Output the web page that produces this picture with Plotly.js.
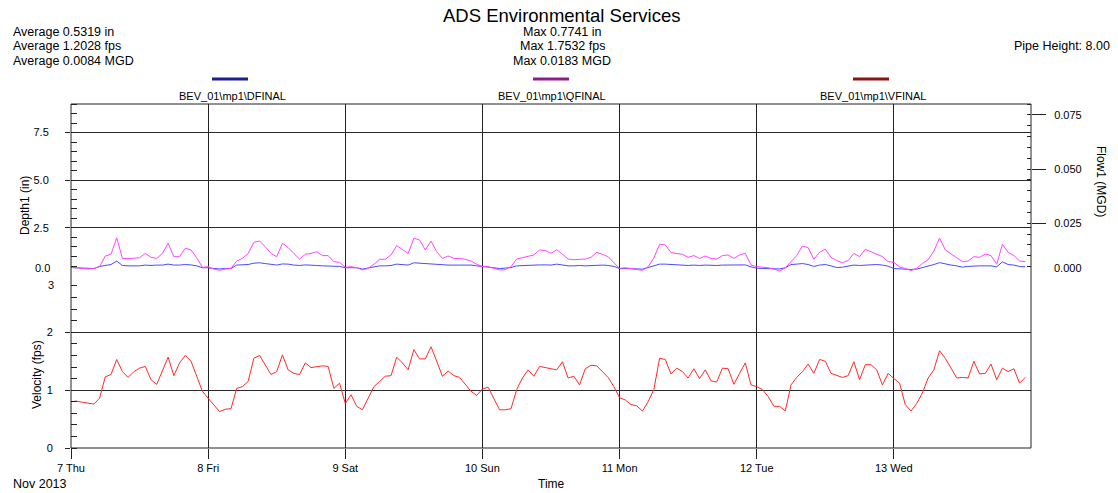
<!DOCTYPE html>
<html><head><meta charset="utf-8">
<script src="https://cdn.plot.ly/plotly-3.0.1.min.js"></script>
<style>html,body{margin:0;padding:0;background:#fff}</style>
</head><body><div id="chart" style="width:1118px;height:493px"></div>
<script>
// ---- data (hourly, 7-14 Nov 2013) ----
const dayTicks = ['2013-11-07','2013-11-08','2013-11-09','2013-11-10','2013-11-11','2013-11-12','2013-11-13'];
const dayLabels = ['7 Thu','8 Fri','9 Sat','10 Sun','11 Mon','12 Tue','13 Wed'];

const depthIn = [
 0.42,0.41,0.39,0.37,0.37,0.48,0.55,0.58,0.76,0.53,0.51,0.51,0.51,0.55,0.53,0.55,0.55,0.60,0.55,0.55,0.58,0.56,0.51,0.41,
 0.41,0.37,0.35,0.37,0.37,0.55,0.58,0.58,0.65,0.67,0.63,0.58,0.55,0.61,0.60,0.55,0.53,0.56,0.56,0.53,0.51,0.51,0.48,0.48,
 0.41,0.41,0.41,0.34,0.41,0.48,0.51,0.51,0.53,0.60,0.58,0.55,0.67,0.65,0.61,0.60,0.56,0.55,0.55,0.55,0.55,0.55,0.55,0.51,
 0.46,0.44,0.41,0.37,0.39,0.42,0.51,0.53,0.53,0.55,0.56,0.56,0.55,0.60,0.55,0.51,0.51,0.53,0.51,0.53,0.55,0.55,0.53,0.48,
 0.37,0.37,0.35,0.35,0.34,0.42,0.53,0.60,0.60,0.58,0.55,0.55,0.53,0.55,0.53,0.55,0.53,0.53,0.55,0.55,0.53,0.55,0.56,0.46,
 0.39,0.37,0.37,0.37,0.35,0.41,0.58,0.60,0.63,0.58,0.48,0.55,0.58,0.51,0.42,0.44,0.51,0.55,0.53,0.55,0.56,0.58,0.55,0.49,
 0.37,0.35,0.32,0.32,0.34,0.41,0.48,0.58,0.68,0.60,0.55,0.51,0.44,0.48,0.51,0.51,0.51,0.51,0.46,0.72,0.58,0.55,0.48,0.46
];
const velocityFps = [
 0.80,0.81,0.79,0.78,0.76,0.86,1.23,1.27,1.53,1.32,1.22,1.32,1.38,1.41,1.18,1.10,1.32,1.57,1.25,1.47,1.60,1.50,1.24,0.98,
 0.86,0.75,0.63,0.67,0.68,1.03,1.06,1.15,1.55,1.60,1.44,1.27,1.32,1.61,1.35,1.29,1.27,1.47,1.39,1.41,1.42,1.41,1.03,1.12,
 0.77,0.92,0.72,0.66,0.86,1.06,1.15,1.24,1.25,1.57,1.47,1.35,1.70,1.54,1.54,1.75,1.50,1.24,1.33,1.25,1.22,1.09,0.98,0.91,
 1.02,1.05,0.86,0.66,0.66,0.68,1.01,1.21,1.35,1.24,1.41,1.39,1.38,1.35,1.49,1.21,1.24,1.09,1.37,1.43,1.42,1.32,1.22,1.06,
 0.87,0.83,0.75,0.73,0.64,0.80,1.01,1.55,1.53,1.28,1.38,1.32,1.21,1.37,1.20,1.35,1.16,1.14,1.38,1.37,1.10,1.29,1.47,1.09,
 1.06,1.01,0.89,0.72,0.72,0.64,1.09,1.22,1.32,1.45,1.29,1.53,1.50,1.29,1.25,1.22,1.25,1.49,1.18,1.44,1.44,1.35,1.09,1.29,
 1.20,1.12,0.75,0.64,0.77,0.95,1.21,1.35,1.68,1.55,1.38,1.21,1.22,1.21,1.50,1.28,1.29,1.45,1.18,1.38,1.32,1.37,1.12,1.22
];
const flowMGD = [
 0.0047,0.0045,0.0042,0.0039,0.0041,0.0050,0.0099,0.0107,0.0183,0.0088,0.0087,0.0088,0.0091,0.0111,0.0093,0.0088,0.0111,0.0158,0.0096,0.0096,0.0135,0.0127,0.0091,0.0047,
 0.0050,0.0039,0.0033,0.0039,0.0042,0.0076,0.0088,0.0111,0.0162,0.0168,0.0142,0.0111,0.0096,0.0158,0.0138,0.0111,0.0085,0.0107,0.0111,0.0119,0.0101,0.0101,0.0073,0.0070,
 0.0047,0.0050,0.0045,0.0035,0.0042,0.0061,0.0084,0.0084,0.0104,0.0147,0.0127,0.0111,0.0181,0.0173,0.0127,0.0168,0.0119,0.0088,0.0099,0.0088,0.0088,0.0084,0.0076,0.0061,
 0.0050,0.0050,0.0042,0.0035,0.0036,0.0050,0.0085,0.0091,0.0096,0.0104,0.0127,0.0124,0.0111,0.0128,0.0107,0.0085,0.0082,0.0085,0.0085,0.0093,0.0116,0.0107,0.0096,0.0068,
 0.0042,0.0045,0.0042,0.0038,0.0033,0.0050,0.0090,0.0153,0.0150,0.0115,0.0111,0.0107,0.0093,0.0101,0.0088,0.0099,0.0088,0.0085,0.0101,0.0104,0.0088,0.0104,0.0111,0.0058,
 0.0050,0.0048,0.0045,0.0039,0.0030,0.0045,0.0073,0.0101,0.0145,0.0138,0.0084,0.0116,0.0131,0.0093,0.0078,0.0068,0.0078,0.0111,0.0096,0.0130,0.0119,0.0108,0.0096,0.0073,
 0.0070,0.0048,0.0042,0.0032,0.0042,0.0065,0.0082,0.0122,0.0182,0.0127,0.0108,0.0088,0.0073,0.0076,0.0096,0.0093,0.0108,0.0101,0.0061,0.0153,0.0116,0.0101,0.0076,0.0073
];
const seriesNames = ['BEV_01\\mp1\\DFINAL','BEV_01\\mp1\\QFINAL','BEV_01\\mp1\\VFINAL'];
const statsAvg = ['Average 0.5319 in','Average 1.2028 fps','Average 0.0084 MGD'];
const statsMax = ['Max 0.7741 in','Max 1.7532 fps','Max 0.0183 MGD'];

// timestamps: hourly from 7 Nov 2013 00:00
const pad = n => String(n).padStart(2,'0');
const times = depthIn.map((_, i) => '2013-11-' + pad(7 + Math.floor(i/24)) + ' ' + pad(i % 24) + ':00');

// ---- layout geometry ----
const W=1118, H=493, L=71, R=1031, T=104, B=448, MID=275;
const F = 'Liberation Sans, Arial, sans-serif';
const px = x => (x - L) / (R - L);
const py = y => (B - y) / (B - T);
const split = (B - MID) / (B - T);
const AX = '#222';

const traces = [
  {x: times, y: depthIn, xaxis:'x', yaxis:'y', type:'scatter', mode:'lines', name: seriesNames[0], line:{color:'#4a4aff', width:1}},
  {x: times, y: flowMGD, xaxis:'x', yaxis:'y2', type:'scatter', mode:'lines', name: seriesNames[1], line:{color:'#ff44ff', width:1}},
  {x: times, y: velocityFps, xaxis:'x', yaxis:'y3', type:'scatter', mode:'lines', name: seriesNames[2], line:{color:'#ff2a2a', width:1}}
];

function ann(text, x, y, opts) {
  return Object.assign({text, xref:'paper', yref:'paper', x: px(x), y: py(y), showarrow:false,
    xanchor:'center', yanchor:'middle', font:{family:F, size:11, color:'#000'}}, opts || {});
}
const annotations = [
  ann('ADS Environmental Services', 562, 15, {font:{family:F, size:18.5, color:'#000'}}),
  ann('Pipe Height: 8.00', 1112, 46, {xanchor:'right', font:{family:F, size:12.5, color:'#000'}}),
  ann('Depth1 (in)', 25, 206, {textangle:-90, font:{family:F, size:12, color:'#000'}}),
  ann('Velocity (fps)', 37, 375, {textangle:-90, font:{family:F, size:12, color:'#000'}}),
  ann('Flow1 (MGD)', 1101, 181, {textangle:90, font:{family:F, size:12, color:'#000'}}),
  ann('Time', 551, 484, {font:{family:F, size:12, color:'#000'}}),
  ann('Nov 2013', 11, 484, {xanchor:'left', font:{family:F, size:12.5, color:'#000'}}),
  ann('0.0', 52, 268, {xanchor:'right'}),
  ann('3', 56, 285, {xanchor:'right'}),
  ann('0.000', 1052, 268, {xanchor:'left'})
];
[32, 46, 61].forEach((yy, i) => {
  annotations.push(ann(statsAvg[i], 11, yy, {xanchor:'left', font:{family:F, size:12.5, color:'#000'}}));
  annotations.push(ann(statsMax[i], 562, yy, {font:{family:F, size:12.5, color:'#000'}}));
});
const legendX = [[212, 248, 232], [533, 569, 552], [853, 889, 873]];
const legendColors = ['#1e1e8e', '#8e1e8e', '#8e1414'];
const shapes = [
  {type:'rect', xref:'paper', yref:'paper', x0:0, x1:1, y0:0, y1:1, line:{color:AX, width:1}}
];
legendX.forEach((lx, i) => {
  shapes.push({type:'line', xref:'paper', yref:'paper', x0:px(lx[0]), x1:px(lx[1]), y0:py(79), y1:py(79), line:{color:legendColors[i], width:3}});
  annotations.push(ann(seriesNames[i], lx[2], 96, {font:{family:F, size:11, color:'#000'}}));
});

const yBase = {ticks:'outside', ticklen:5, tickcolor:AX, tickwidth:1, showgrid:true, gridcolor:'#2a2a2a', gridwidth:1,
  zeroline:false, showline:false, tickfont:{family:F, size:11, color:'#000'}, fixedrange:true};

const layout = {
  width:W, height:H, margin:{l:L, r:W-R, t:T, b:H-B, pad:0}, paper_bgcolor:'#fff', plot_bgcolor:'#fff',
  showlegend:false, font:{family:F, size:11, color:'#000'},
  xaxis:{type:'date', range:['2013-11-07 00:00','2013-11-14 00:00'], tickmode:'array', tickvals:dayTicks, ticktext:dayLabels,
    ticks:'outside', ticklen:10, tickcolor:AX, showgrid:true, gridcolor:'#222', gridwidth:1, zeroline:false, showline:false,
    anchor:'y3', tickfont:{family:F, size:11, color:'#000'}},
  yaxis:Object.assign({}, yBase, {domain:[split, 1], range:[0.03, 9], tick0:0, dtick:2.5, tickformat:'.1f', anchor:'x', ticklabelstandoff:14,
    minor:{tick0:0, dtick:0.5, ticks:'inside', ticklen:6, tickcolor:AX, showgrid:false}}),
  yaxis2:{overlaying:'y', side:'right', anchor:'x', range:[0.00115, 0.08], tick0:0, dtick:0.025, tickformat:'.3f',
    ticks:'outside', ticklen:14, tickcolor:AX, showgrid:false, zeroline:false, showline:false, ticklabelstandoff:6,
    tickfont:{family:F, size:11, color:'#000'}, minor:{tick0:0, dtick:0.005, ticks:'inside', ticklen:4, tickcolor:AX, showgrid:false}},
  yaxis3:Object.assign({}, yBase, {domain:[0, split], range:[0, 2.99], tick0:0, dtick:1, anchor:'x', ticklabelstandoff:10,
    minor:{tick0:0, dtick:0.2, ticks:'inside', ticklen:6, tickcolor:AX, showgrid:false}}),
  shapes, annotations
};
Plotly.newPlot('chart', traces, layout, {staticPlot:true, displayModeBar:false});
</script></body></html>
